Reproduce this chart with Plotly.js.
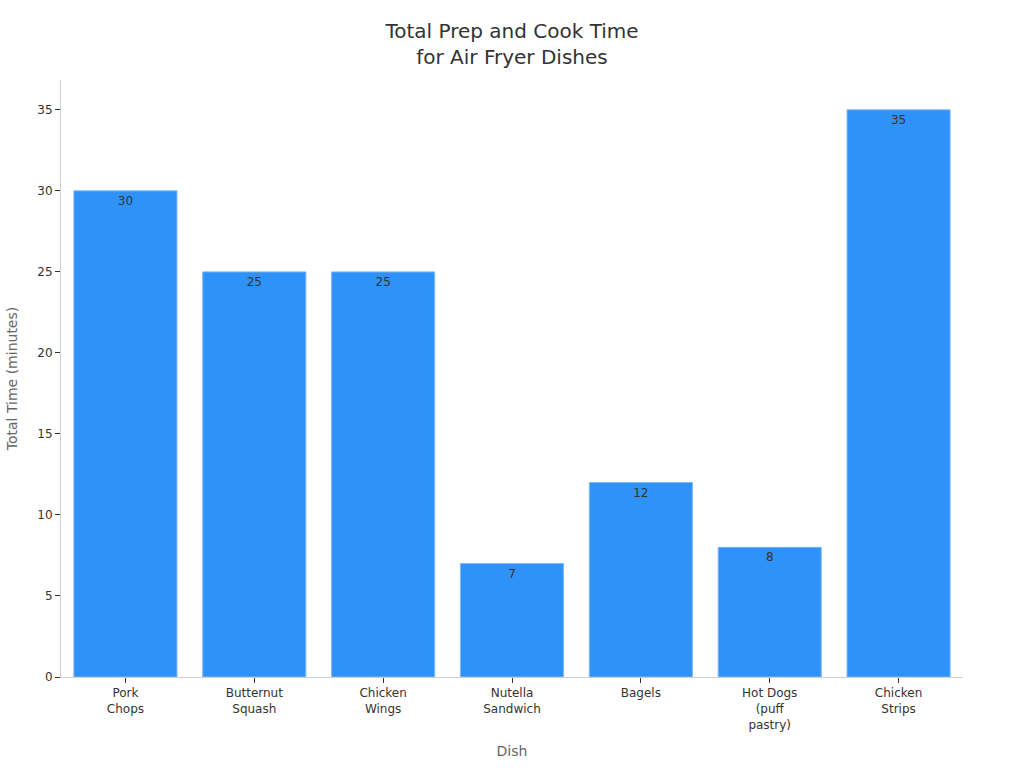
<!DOCTYPE html>
<html>
<head>
<meta charset="utf-8">
<script src="https://cdn.plot.ly/plotly-3.0.1.min.js"></script>
<style>
  html, body { margin: 0; padding: 0; background: #fff; }
  #chart { width: 1024px; height: 768px; }
</style>
</head>
<body>
<div id="chart"></div>
<script>
// chart data
let dishes = ['Pork<br>Chops', 'Butternut<br>Squash', 'Chicken<br>Wings', 'Nutella<br>Sandwich', 'Bagels', 'Hot Dogs<br>(puff<br>pastry)', 'Chicken<br>Strips']
let total_minutes = [30, 25, 25, 7, 12, 8, 35]

let graph_data = [
  {
    x: dishes,
    y: total_minutes,
    type: 'bar',
    text: total_minutes.map(String),
    textposition: 'inside',
    insidetextanchor: 'end',
    textfont: {color: '#333333', size: 12},
    marker: {
      color: '#2f92f8',
      line: {color: '#7db8f5', width: 1}
    },
    hoverinfo: 'x+y'
  }
]

var layout = {
  width: 1024,
  height: 768,
  margin: {l: 61, r: 61, t: 80, b: 91},
  bargap: 0.2,
  font: {family: 'DejaVu Sans, sans-serif', color: '#333333', size: 12},
  paper_bgcolor: '#ffffff',
  plot_bgcolor: '#ffffff',
  showlegend: false,
  title: {
    text: 'Total Prep and Cook Time<br>for Air Fryer Dishes',
    font: {size: 20, color: '#333333'},
    x: 0.5,
    xanchor: 'center',
    y: 0.95,
    yanchor: 'top'
  },
  xaxis: {
    title: {text: 'Dish', font: {size: 14, color: '#666666'}, standoff: 15},
    automargin: true,
    showline: true,
    linecolor: '#d0d0d0',
    linewidth: 1,
    ticks: 'outside',
    ticklen: 5,
    tickcolor: '#333333',
    showgrid: false,
    tickfont: {size: 12, color: '#333333'}
  },
  yaxis: {
    title: {text: 'Total Time (minutes)', font: {size: 14, color: '#666666'}, standoff: 16},
    automargin: true,
    showline: true,
    linecolor: '#d0d0d0',
    linewidth: 1,
    ticks: 'outside',
    ticklen: 5,
    tickcolor: '#333333',
    showgrid: false,
    zeroline: false,
    dtick: 5,
    tickfont: {size: 12, color: '#333333'}
  }
};

Plotly.newPlot('chart', graph_data, layout, {displayModeBar: false, staticPlot: true})
</script>
</body>
</html>
